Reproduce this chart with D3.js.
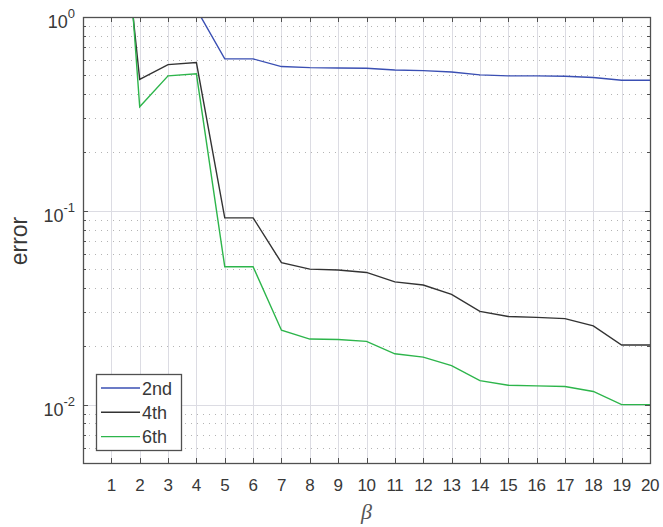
<!DOCTYPE html>
<html>
<head>
<meta charset="utf-8">
<script src="https://cdn.jsdelivr.net/npm/d3@7"></script>
<style>
  body { margin: 0; background: #fff; }
  text { font-family: "Liberation Sans", Arial, Helvetica, sans-serif; fill: #383838; }
</style>
</head>
<body>
<div id="chart"></div>
<script>
// beta values on the x axis
const betas = [1, 2, 3, 4, 5, 6, 7, 8, 9, 10, 11, 12, 13, 14, 15, 16, 17, 18, 19, 20];

// error per order (values above 1 are clipped)
const err2nd = [3.0, 2.0, 1.5, 1.1, 0.608, 0.608, 0.555, 0.548, 0.546, 0.544,
    0.533, 0.529, 0.52, 0.503, 0.497, 0.497, 0.495, 0.487, 0.472, 0.472];
const err4th = [12, 0.476, 0.568, 0.582, 0.092, 0.092, 0.054, 0.050, 0.0495, 0.0481,
    0.043, 0.0414, 0.0371, 0.0303, 0.0285, 0.0282, 0.0278, 0.0255, 0.0203, 0.0203];
const err6th = [36, 0.344, 0.497, 0.509, 0.0515, 0.0515, 0.0242, 0.0218, 0.0217, 0.0212,
    0.0183, 0.0176, 0.0159, 0.0133, 0.0126, 0.0125, 0.0124, 0.0117, 0.0100, 0.0100];

const seriesNames = ["2nd", "4th", "6th"];
const seriesColors = ["#3a4fb3", "#333333", "#2db54b"];
const seriesValues = [err2nd, err4th, err6th];

const width = 663, height = 527;
const margin = {top: 17, right: 13, bottom: 64, left: 83};

const svg = d3.select("#chart")
    .append("svg")
    .attr("width", width)
    .attr("height", height);

const x = d3.scaleLinear()
    .domain([0, 20])
    .range([margin.left, width - margin.right]);

const y = d3.scaleLog()
    .domain([0.005, 1])
    .range([height - margin.bottom, margin.top]);

const x0 = x.range()[0], x1 = x.range()[1];
const yTop = y.range()[1], yBot = y.range()[0];

// minor log positions
let minor = [];
[0.001, 0.01, 0.1].forEach(function(dec) {
    for (let k = 2; k <= 9; k++) {
        const v = dec * k;
        if (v > 0.005 && v < 1) minor.push(v);
    }
});
const major = [0.01, 0.1, 1];

const grid = svg.append("g");

// vertical grid
grid.selectAll(".vgrid")
    .data(betas.filter(function(d) { return d < 20; }))
    .enter().append("line")
    .attr("x1", function(d) { return Math.round(x(d)) + 0.5; })
    .attr("x2", function(d) { return Math.round(x(d)) + 0.5; })
    .attr("y1", yTop)
    .attr("y2", yBot)
    .attr("stroke", "#dcdce3")
    .attr("stroke-width", 1);

// minor horizontal grid (dotted)
grid.selectAll(".mgrid")
    .data(minor)
    .enter().append("line")
    .attr("x1", x0)
    .attr("x2", x1)
    .attr("y1", function(d) { return Math.round(y(d)) + 0.5; })
    .attr("y2", function(d) { return Math.round(y(d)) + 0.5; })
    .attr("stroke", "#b4b4b4")
    .attr("stroke-width", 1)
    .attr("stroke-dasharray", "1,5");

// major horizontal grid
grid.selectAll(".hgrid")
    .data(major.filter(function(d) { return d < 1; }))
    .enter().append("line")
    .attr("x1", x0)
    .attr("x2", x1)
    .attr("y1", function(d) { return Math.round(y(d)) + 0.5; })
    .attr("y2", function(d) { return Math.round(y(d)) + 0.5; })
    .attr("stroke", "#dcdce3")
    .attr("stroke-width", 1);

// lines
svg.append("clipPath")
    .attr("id", "plotclip")
    .append("rect")
    .attr("x", x0)
    .attr("y", yTop)
    .attr("width", x1 - x0)
    .attr("height", yBot - yTop);

const line = d3.line()
    .x(function(d, i) { return x(betas[i]); })
    .y(function(d) { return y(d); });

svg.append("g")
    .attr("clip-path", "url(#plotclip)")
    .selectAll("path")
    .data(seriesValues)
    .enter().append("path")
    .attr("d", line)
    .attr("fill", "none")
    .attr("stroke", function(d, i) { return seriesColors[i]; })
    .attr("stroke-width", 1.4);

// axis box and ticks
const axisColor = "#505050";
const ticks = svg.append("g")
    .attr("stroke", axisColor)
    .attr("stroke-width", 1);

betas.forEach(function(b) {
    const px = Math.round(x(b)) + 0.5;
    ticks.append("line").attr("x1", px).attr("x2", px).attr("y1", yBot).attr("y2", yBot - 5);
    ticks.append("line").attr("x1", px).attr("x2", px).attr("y1", yTop).attr("y2", yTop + 5);
});
major.forEach(function(v) {
    const py = Math.round(y(v)) + 0.5;
    ticks.append("line").attr("x1", x0).attr("x2", x0 + 5).attr("y1", py).attr("y2", py);
    ticks.append("line").attr("x1", x1).attr("x2", x1 - 5).attr("y1", py).attr("y2", py);
});
minor.forEach(function(v) {
    const py = Math.round(y(v)) + 0.5;
    ticks.append("line").attr("x1", x0).attr("x2", x0 + 3).attr("y1", py).attr("y2", py);
    ticks.append("line").attr("x1", x1).attr("x2", x1 - 3).attr("y1", py).attr("y2", py);
});

svg.append("rect")
    .attr("x", Math.round(x0) + 0.5)
    .attr("y", Math.round(yTop) + 0.5)
    .attr("width", Math.round(x1 - x0))
    .attr("height", Math.round(yBot - yTop))
    .attr("fill", "none")
    .attr("stroke", axisColor)
    .attr("stroke-width", 1.3);

// x tick labels
svg.append("g")
    .selectAll("text")
    .data(betas)
    .enter().append("text")
    .attr("x", function(d) { return x(d); })
    .attr("y", 491)
    .attr("text-anchor", "middle")
    .attr("font-size", 17)
    .attr("letter-spacing", -0.4)
    .text(function(d) { return d; });

// y tick labels
const expLabels = [{v: 1, e: "0"}, {v: 0.1, e: "-1"}, {v: 0.01, e: "-2"}];
const yl = svg.append("g")
    .selectAll("text")
    .data(expLabels)
    .enter().append("text")
    .attr("x", 75)
    .attr("y", function(d) { return y(d.v) + 11; })
    .attr("text-anchor", "end")
    .attr("font-size", 18);
yl.append("tspan").text("10");
yl.append("tspan")
    .attr("dy", -10)
    .attr("font-size", 13)
    .text(function(d) { return d.e; });

// axis labels
svg.append("text")
    .attr("transform", "translate(27," + ((yTop + yBot) / 2 + 1) + ")rotate(-90)")
    .attr("text-anchor", "middle")
    .attr("font-size", 23)
    .text("error");

svg.append("text")
    .attr("x", (x0 + x1) / 2)
    .attr("y", 519)
    .attr("text-anchor", "middle")
    .attr("font-size", 22)
    .attr("font-style", "italic")
    .style("font-family", "'Liberation Serif', 'DejaVu Serif', serif")
    .style("fill", "#555")
    .text("β");

// legend
const legend = svg.append("g");
legend.append("rect")
    .attr("x", 96.5)
    .attr("y", 374.5)
    .attr("width", 85)
    .attr("height", 76)
    .attr("fill", "#fff")
    .attr("stroke", axisColor)
    .attr("stroke-width", 1.3);

const rows = legend.selectAll(".row")
    .data(seriesNames)
    .enter().append("g")
    .attr("transform", function(d, i) { return "translate(0," + (388 + i * 24.3) + ")"; });
rows.append("line")
    .attr("x1", 101)
    .attr("x2", 140)
    .attr("y1", 0)
    .attr("y2", 0)
    .attr("stroke", function(d, i) { return seriesColors[i]; })
    .attr("stroke-width", 1.4);
rows.append("text")
    .attr("x", 142)
    .attr("y", 6.5)
    .attr("font-size", 18)
    .text(function(d) { return d; });
</script>
</body>
</html>
